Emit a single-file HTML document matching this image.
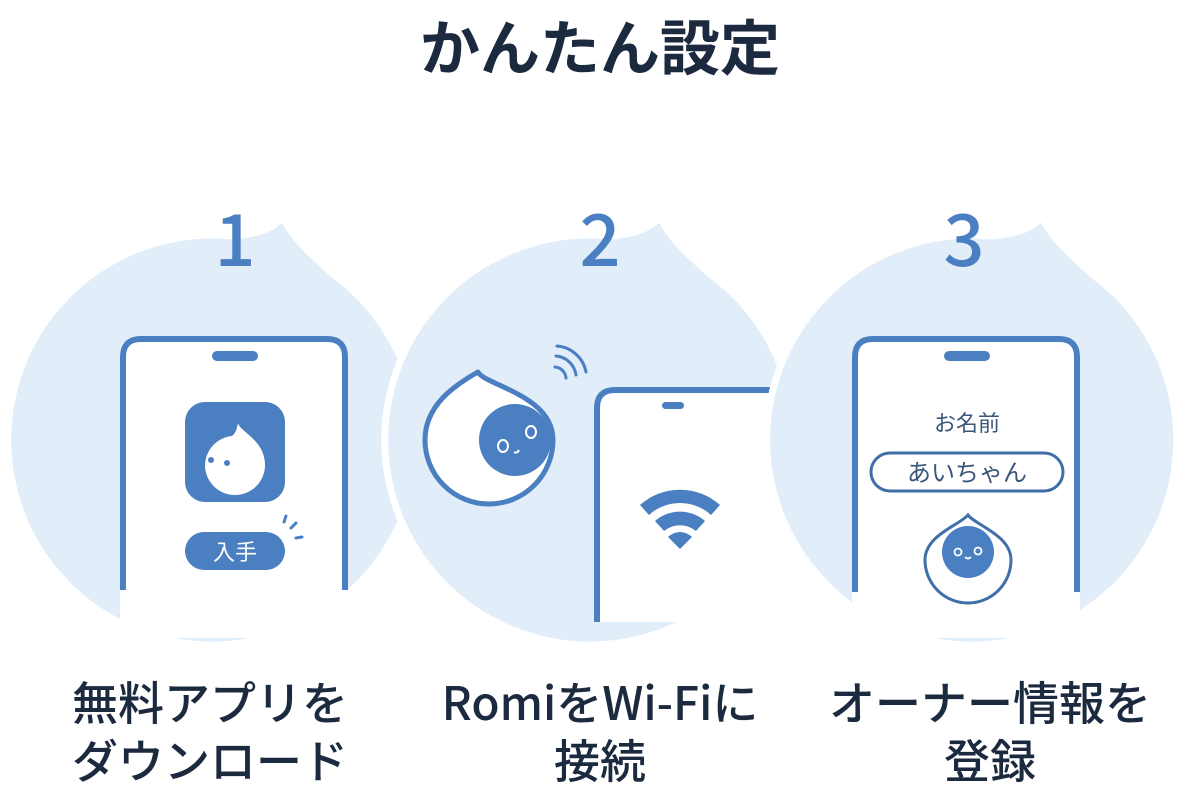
<!DOCTYPE html>
<html><head><meta charset="utf-8"><style>
html,body{margin:0;padding:0;background:#fff;}
body{width:1200px;height:786px;overflow:hidden;position:relative;font-family:"Liberation Sans","Noto Sans CJK JP",sans-serif;}
.t{position:absolute;color:#1c2a3f;text-align:center;font-family:"Noto Sans CJK JP",sans-serif;}
</style></head><body>
<svg width="1200" height="786" style="position:absolute;left:0;top:0">
<defs>
<path id="drop" d="M70,-224 C80,-200 100,-185 120,-166 A205,205 0 1 1 20,-204 C45,-206 62,-212 70,-224 Z"/>
</defs>
<use href="#drop" transform="translate(213,440)" fill="#e1edf9" stroke="#fff" stroke-width="7"/>
<!-- phone 1 -->
<path d="M123,590 V357 Q123,339 141,339 H327 Q345,339 345,357 V590" fill="#fff" stroke="#4a7fc1" stroke-width="6"/>
<rect x="120" y="590" width="228" height="48" fill="#fff"/>
<rect x="212" y="351" width="46" height="10" rx="5" fill="#4a7fc1"/>
<rect x="185" y="402" width="100" height="100" rx="20" fill="#4a7fc1"/>
<path d="M238,423 C240,432 265,440 265,465 A30,30 0 0 1 205,465 A30,30 0 0 1 232,436 C236,433 237,428 238,423Z" fill="#fff"/>
<circle cx="211" cy="460" r="3" fill="#4a7fc1"/><circle cx="227" cy="463" r="3" fill="#4a7fc1"/>
<rect x="185" y="532" width="100" height="38" rx="19" fill="#4a7fc1"/>
<text x="235" y="560" fill="#fff" font-size="22" text-anchor="middle" font-family="Noto Sans CJK JP">入手</text>
<g stroke="#4a7fc1" stroke-width="3" stroke-linecap="round"><line x1="284" y1="522" x2="286" y2="516"/><line x1="291" y1="528" x2="296" y2="523"/><line x1="296" y1="538" x2="302" y2="537"/></g>

<use href="#drop" transform="translate(590,440)" fill="#e1edf9" stroke="#fff" stroke-width="7"/>
<!-- phone 2 -->
<path d="M597,622 V408 Q597,390 615,390 H780 V622 Z" fill="#fff"/>
<path d="M597,622 V408 Q597,390 615,390 H780" fill="none" stroke="#4a7fc1" stroke-width="6"/>
<rect x="662" y="402" width="22" height="7" rx="3.5" fill="#4a7fc1"/>
<g fill="#4a7fc1"><path d="M640,505 A60,60 0 0 1 720,505 L711,515 A46,46 0 0 0 649,515Z"/><path d="M655,521 A38,38 0 0 1 705,521 L696,531 A25,25 0 0 0 664,531Z"/><path d="M668,537 A17,17 0 0 1 692,537 L680,549Z"/></g>
<!-- robot 2 -->
<path d="M478,372 C484,385 553,395 553,440 A64,64 0 0 1 425,440 C425,405 455,385 478,372 Z" fill="#fff" stroke="#4a7fc1" stroke-width="5" stroke-linejoin="round"/>
<circle cx="515" cy="440" r="36" fill="#4a7fc1"/>
<g fill="none" stroke="#fff" stroke-width="2"><ellipse cx="503" cy="446" rx="5" ry="6"/><ellipse cx="531" cy="432" rx="5" ry="6"/><path d="M514,452 Q517,454 519,450"/></g>
<g fill="none" stroke="#4a7fc1" stroke-width="3" stroke-linecap="round"><path d="M555,367 A12,12 0 0 1 566,378"/><path d="M556,356 A22,22 0 0 1 576,375"/><path d="M557,346 A32,32 0 0 1 586,372"/></g>

<use href="#drop" transform="translate(972,440)" fill="#e1edf9" stroke="#fff" stroke-width="7"/>
<!-- phone 3 -->
<path d="M855,592 V357 Q855,339 873,339 H1059 Q1077,339 1077,357 V592" fill="#fff" stroke="#4a7fc1" stroke-width="6"/>
<rect x="852" y="592" width="228" height="46" fill="#fff"/>
<rect x="944" y="351" width="46" height="10" rx="5" fill="#4a7fc1"/>
<text x="967" y="431" fill="#3a5679" font-size="22" text-anchor="middle" font-family="Noto Sans CJK JP">お名前</text>
<rect x="871" y="453" width="192" height="38" rx="19" fill="#fff" stroke="#3f6ea8" stroke-width="3"/>
<text x="967" y="481" fill="#3a5679" font-size="24" text-anchor="middle" font-family="Noto Sans CJK JP">あいちゃん</text>
<path d="M968,515 C975,525 1011,535 1011,560 A42,42 0 0 1 925,560 C925,535 960,525 968,515Z" fill="#fff" stroke="#3f6ea8" stroke-width="3"/>
<circle cx="968" cy="552" r="26" fill="#4a7fc1"/>
<g fill="none" stroke="#fff" stroke-width="1.8"><circle cx="958" cy="552" r="3.5"/><circle cx="978" cy="551" r="3.5"/><path d="M965,557 Q968,560 971,557"/></g>
</svg>
<div class="t" style="left:0;width:1200px;top:2px;font-size:60px;font-weight:700;line-height:86px;">かんたん設定</div>
<div class="t" style="left:135px;width:200px;top:185px;font-size:72px;font-weight:500;color:#4a7fc1;line-height:100px;">1</div>
<div class="t" style="left:500px;width:200px;top:185px;font-size:72px;font-weight:500;color:#4a7fc1;line-height:100px;">2</div>
<div class="t" style="left:864px;width:200px;top:185px;font-size:72px;font-weight:500;color:#4a7fc1;line-height:100px;">3</div>
<div class="t" style="left:0;width:420px;top:672px;font-size:46px;font-weight:500;line-height:58px;">無料アプリを<br>ダウンロード</div>
<div class="t" style="left:390px;width:420px;top:672px;font-size:46px;font-weight:500;line-height:58px;">RomiをWi-Fiに<br>接続</div>
<div class="t" style="left:780px;width:420px;top:672px;font-size:46px;font-weight:500;line-height:58px;">オーナー情報を<br>登録</div>
</body></html>
